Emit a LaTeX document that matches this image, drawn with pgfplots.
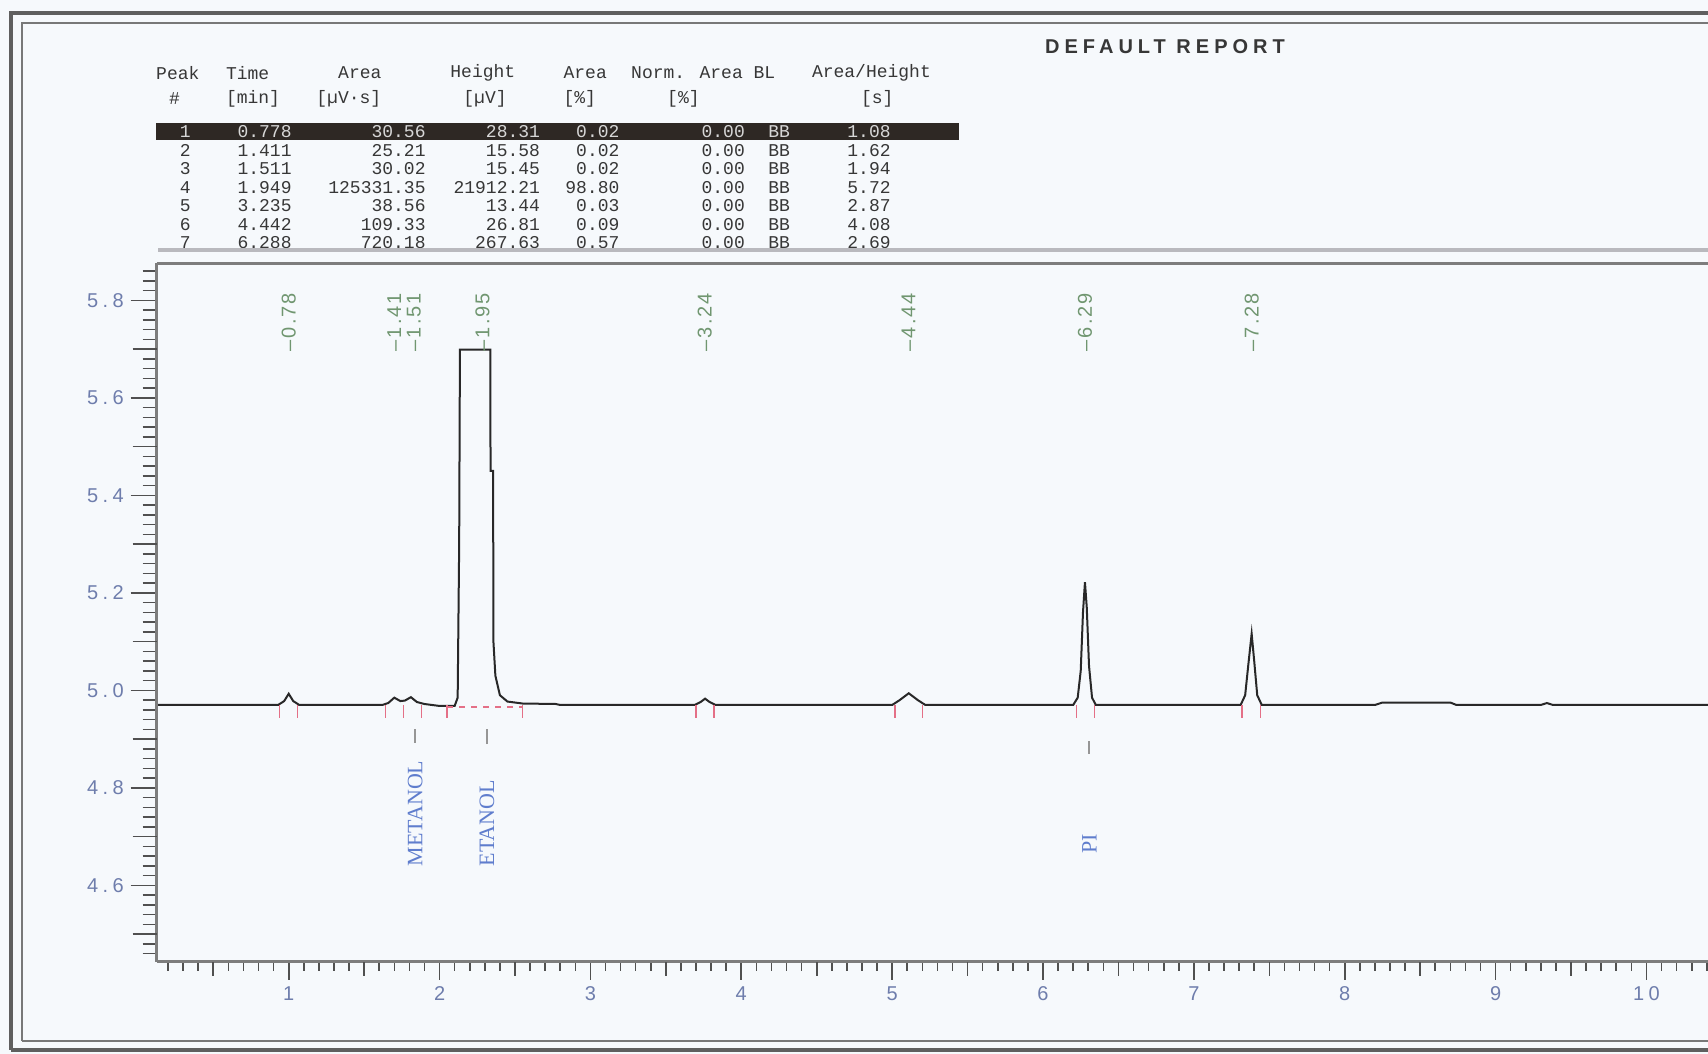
\documentclass[border=0pt]{standalone}
\usepackage{fontspec}
\setmainfont{Liberation Sans}
\newfontfamily\monofont{Liberation Mono}
\newfontfamily\seriffont{Liberation Serif}
\newfontfamily\tickfont[LetterSpace=22]{Liberation Sans}
\newfontfamily\titlefont[LetterSpace=25]{Liberation Sans}
\newfontfamily\rtfont[LetterSpace=10]{Liberation Sans}
\usepackage{pgfplots}
\pgfplotsset{compat=1.18}

\definecolor{paper}{RGB}{246,249,252}
\definecolor{framedark}{RGB}{95,95,95}
\definecolor{framegray}{RGB}{120,120,120}
\definecolor{axisgray}{RGB}{125,125,125}
\definecolor{tickgray}{RGB}{80,80,80}
\definecolor{tracecol}{RGB}{40,40,40}
\definecolor{ticklab}{RGB}{110,125,172}
\definecolor{peaklab}{RGB}{112,150,112}
\definecolor{complab}{RGB}{95,125,205}
\definecolor{leadgray}{RGB}{150,150,150}
\definecolor{intmark}{RGB}{228,112,135}
\definecolor{rowhl}{RGB}{46,40,36}
\definecolor{rowhltext}{RGB}{215,215,215}
\definecolor{tabtext}{RGB}{55,55,55}
\definecolor{sepgray}{RGB}{185,185,190}

\newcommand{\tabfont}{\monofont\fontsize{9}{10}\selectfont}
\newcommand{\peakfont}{\rtfont\fontsize{10}{12}\selectfont}
\newcommand{\compfont}{\seriffont\fontsize{11}{13}\selectfont}

\begin{document}
\begin{tikzpicture}
\useasboundingbox (0pt,0pt) rectangle (854pt,527pt);
\clip (0pt,0pt) rectangle (854pt,527pt);
\fill[paper] (0pt,0pt) rectangle (854pt,527pt);

% window frame (double line)
\draw[framedark, line width=1.8pt] (5.5pt,2pt) -- (5.5pt,520.5pt) -- (860pt,520.5pt);
\draw[framedark, line width=1.8pt] (5.5pt,2pt) -- (860pt,2pt);
\draw[framegray, line width=1.3pt] (11pt,6.5pt) -- (11pt,515.5pt) -- (860pt,515.5pt);
\draw[framegray, line width=1.3pt] (11pt,6.5pt) -- (860pt,6.5pt);

% report title
\node[font=\titlefont\bfseries\fontsize{10}{12}\selectfont, text=tabtext] at (582.5pt,503.5pt) {DEFAULT REPORT};

% peak table: header
\begin{scope}[every node/.style={font=\tabfont, text=tabtext, inner sep=0pt}]
\node[anchor=west] at (77.9pt,490.5pt) {Peak};
\node[anchor=west] at (112.8pt,490.5pt) {Time};
\node[anchor=west] at (168.9pt,490.5pt) {Area};
\node[anchor=west] at (225pt,490.5pt) {Height};
\node[anchor=west] at (281.6pt,490.5pt) {Area};
\node[anchor=west] at (315.4pt,490.5pt) {Norm. Area BL};
\node[anchor=west] at (405.8pt,490.5pt) {Area/Height};
\node at (87.2pt,477.5pt) {\#};
\node[anchor=west] at (112.8pt,477.5pt) {[min]};
\node[anchor=west] at (158pt,477.5pt) {[µV·s]};
\node[anchor=west] at (231.5pt,477.5pt) {[µV]};
\node[anchor=west] at (281.6pt,477.5pt) {[\%]};
\node[anchor=west] at (333.4pt,477.5pt) {[\%]};
\node[anchor=west] at (430.3pt,477.5pt) {[s]};
\end{scope}

% selected row
\fill[rowhl] (78pt,457pt) rectangle (479.5pt,465.5pt);

% peak table: rows
\begin{scope}[every node/.style={font=\tabfont, inner sep=0pt}]
\foreach \rowy/\pkno/\rtime/\parea/\pheight/\ppct/\pnorm/\pratio/\pcol in {
  461/1/0.778/30.56/28.31/0.02/0.00/1.08/rowhltext,
  451.75/2/1.411/25.21/15.58/0.02/0.00/1.62/tabtext,
  442.5/3/1.511/30.02/15.45/0.02/0.00/1.94/tabtext,
  433.25/4/1.949/125331.35/21912.21/98.80/0.00/5.72/tabtext,
  424/5/3.235/38.56/13.44/0.03/0.00/2.87/tabtext,
  414.75/6/4.442/109.33/26.81/0.09/0.00/4.08/tabtext,
  405.5/7/6.288/720.18/267.63/0.57/0.00/2.69/tabtext}{
  \node[text=\pcol] at (92.6pt,\rowy pt) {\pkno};
  \node[text=\pcol, anchor=east] at (146pt,\rowy pt) {\rtime};
  \node[text=\pcol, anchor=east] at (213pt,\rowy pt) {\parea};
  \node[text=\pcol, anchor=east] at (270.2pt,\rowy pt) {\pheight};
  \node[text=\pcol, anchor=east] at (309.9pt,\rowy pt) {\ppct};
  \node[text=\pcol, anchor=east] at (372.6pt,\rowy pt) {\pnorm};
  \node[text=\pcol, anchor=west] at (384pt,\rowy pt) {BB};
  \node[text=\pcol, anchor=east] at (445.5pt,\rowy pt) {\pratio};
}
\end{scope}

% separator under the table
\draw[sepgray, line width=2.4pt] (79pt,402pt) -- (860pt,402pt);

% chromatogram
\begin{axis}[
  at={(78.35pt,46.05pt)}, anchor=south west,
  scale only axis, width=775.65pt, height=349.3pt,
  xmin=0.125, xmax=10.408, ymin=4.443, ymax=5.876,
  axis x line*=box, axis y line*=left,
  axis line style={axisgray, line width=1.4pt, -},
  tick align=outside,
  xtick={1,2,3,4,5,6,7,8,9,10},
  minor xtick={0.2,0.3,...,10.4},
  xtick pos=left,
  ytick=\empty,
  major tick length=9pt, minor tick length=4.5pt,
  extra x ticks={0.5,1.5,2.5,3.5,4.5,5.5,6.5,7.5,8.5,9.5},
  extra x tick labels={},
  extra x tick style={major tick length=7pt},
  every tick/.style={tickgray, line width=0.8pt},
  /pgf/number format/assume math mode=true,
  xticklabel style={font=\tickfont\fontsize{10}{12}\selectfont, text=ticklab},
  clip=false,
]
% detector trace
\addplot[tracecol, line width=1pt] coordinates {
  (0.125,4.970) (0.93,4.970) (0.97,4.978) (1.00,4.993) (1.03,4.978) (1.07,4.970)
  (1.62,4.970) (1.66,4.974) (1.70,4.985) (1.74,4.978) (1.77,4.979) (1.81,4.986)
  (1.85,4.976) (1.90,4.972) (2.00,4.968) (2.10,4.968) (2.12,4.985) (2.13,5.30)
  (2.135,5.699) (2.336,5.699) (2.338,5.45) (2.355,5.45) (2.357,5.10) (2.37,5.03)
  (2.40,4.99) (2.45,4.977) (2.55,4.973) (2.77,4.972) (2.80,4.970)
  (3.69,4.970) (3.73,4.976) (3.76,4.983) (3.79,4.976) (3.83,4.970)
  (5.00,4.970) (5.05,4.980) (5.11,4.994) (5.17,4.980) (5.22,4.970)
  (6.20,4.970) (6.23,4.985) (6.25,5.04) (6.265,5.16) (6.278,5.222) (6.29,5.17)
  (6.305,5.05) (6.325,4.985) (6.35,4.970)
  (7.31,4.970) (7.34,4.990) (7.36,5.05) (7.383,5.116) (7.40,5.06) (7.42,4.99) (7.45,4.970)
  (8.20,4.970) (8.25,4.975) (8.70,4.975) (8.74,4.970)
  (9.30,4.970) (9.34,4.974) (9.38,4.970) (10.408,4.970)
};
% integration start/end marks and drawn baseline
\addplot[intmark, dashed, line width=0.6pt] coordinates {(2.05,4.966) (2.55,4.966)};
\addplot[only marks, mark=|, mark size=3.25pt, intmark, mark options={line width=0.7pt}] coordinates {
  (0.94,4.957) (1.06,4.957) (1.64,4.957) (1.76,4.957) (1.88,4.957) (2.05,4.957) (2.55,4.957)
  (3.70,4.957) (3.82,4.957) (5.02,4.957) (5.20,4.957) (6.22,4.957) (6.34,4.957)
  (7.32,4.957) (7.44,4.957)
};
% retention times
\foreach \px/\txt in {1.00/0.78, 1.70/1.41, 1.83/1.51, 2.285/1.95, 3.758/3.24, 5.108/4.44, 6.278/6.29, 7.383/7.28}{
  \edef\temp{\noexpand\node[rotate=90, anchor=west, inner sep=0pt, text=peaklab, font=\noexpand\peakfont] at (axis cs:\px,5.695) {\noexpand\textendash\txt};}
  \temp
}
% compound names
\node[rotate=90, anchor=west, inner sep=0pt, text=complab, font=\compfont] at (axis cs:1.838,4.638)
  {METANOL\hspace{9pt}\textcolor{leadgray}{\rule[0.3em]{7pt}{0.8pt}}};
\node[rotate=90, anchor=west, inner sep=0pt, text=complab, font=\compfont] at (axis cs:2.314,4.638)
  {ETANOL\hspace{18pt}\textcolor{leadgray}{\rule[0.3em]{7.5pt}{0.8pt}}};
\node[rotate=90, anchor=west, inner sep=0pt, text=complab, font=\compfont] at (axis cs:6.307,4.665)
  {PI\hspace{40pt}\textcolor{leadgray}{\rule[0.3em]{6.5pt}{0.8pt}}};
\end{axis}

% signal scale
\begin{axis}[
  at={(78.35pt,46.05pt)}, anchor=south west,
  scale only axis, width=775.65pt, height=349.3pt,
  xmin=0.125, xmax=10.408, ymin=4.443, ymax=5.876,
  axis x line=none, axis y line*=left,
  axis line style={axisgray, line width=1.4pt, -},
  tick align=outside,
  ytick={4.6,4.8,5.0,5.2,5.4,5.6,5.8},
  minor ytick={4.46,4.48,...,5.87},
  extra y ticks={4.5,4.7,4.9,5.1,5.3,5.5,5.7},
  extra y tick labels={},
  extra y tick style={major tick length=12pt},
  major tick length=13pt, minor tick length=7pt,
  every tick/.style={tickgray, line width=0.8pt},
  /pgf/number format/assume math mode=true,
  yticklabel={\pgfmathprintnumber[fixed,fixed zerofill,precision=1]{\tick}},
  yticklabel style={font=\tickfont\fontsize{10}{12}\selectfont, text=ticklab},
]
\addplot[draw=none] coordinates {(1,5)};
\end{axis}
\end{tikzpicture}
\end{document}
